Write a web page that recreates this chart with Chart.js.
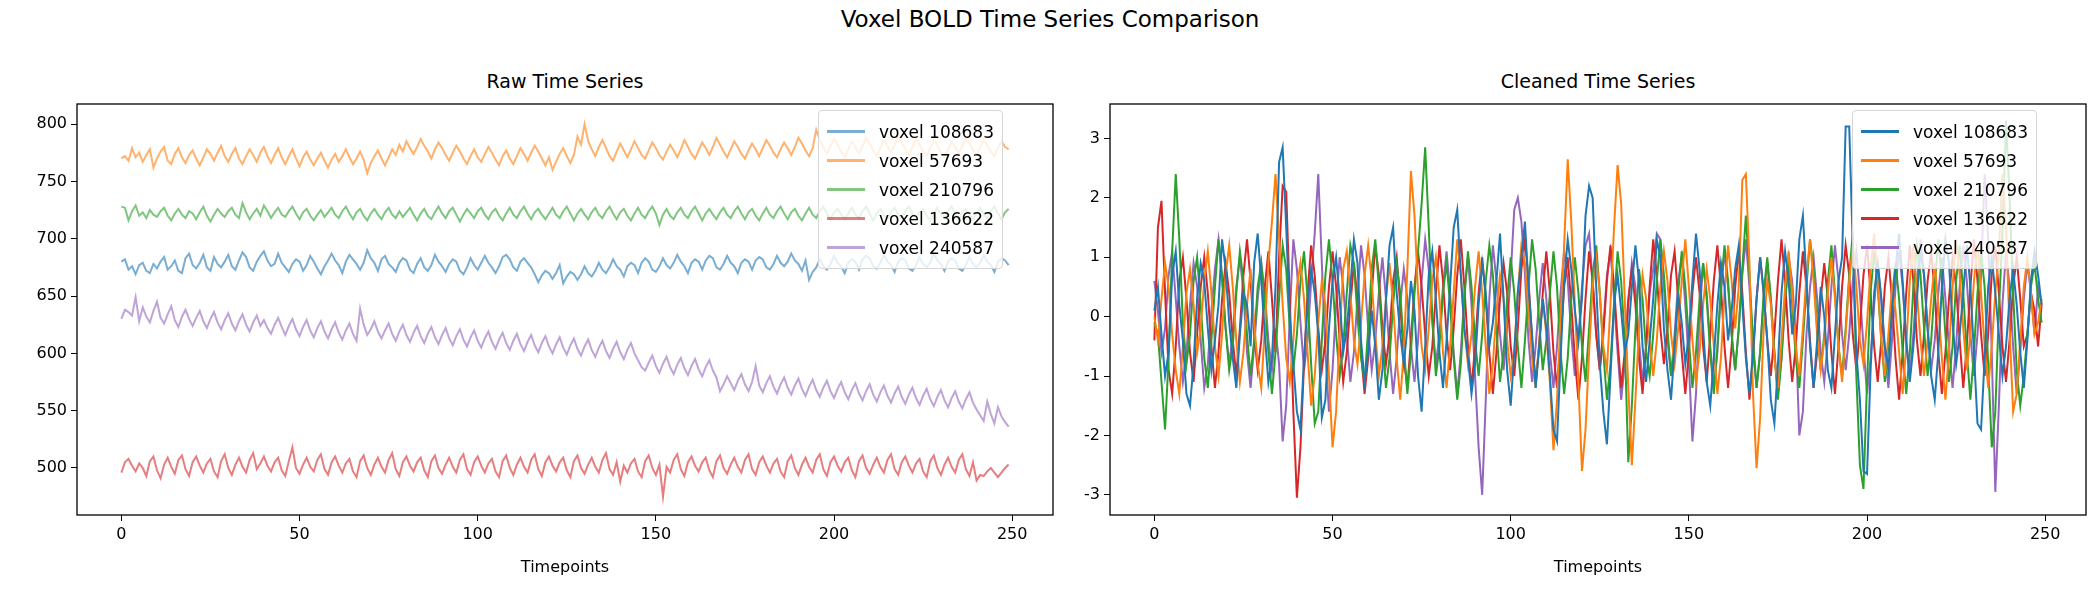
<!DOCTYPE html>
<html>
<head>
<meta charset="utf-8">
<script src="https://cdn.jsdelivr.net/npm/chart.js@4.4.1/dist/chart.umd.min.js"></script>
<style>
  body { margin:0; background:#fff; font-family:"DejaVu Sans", sans-serif; }
  #wrap { position:relative; width:2100px; height:600px; }
  canvas { position:absolute; top:0; }
  .ttl { position:absolute; color:#000; white-space:nowrap; transform:translateX(-50%); }
  .legend { position:absolute; background:rgba(255,255,255,.8); border:1px solid #d6d6d6; border-radius:4px; padding:6px 8px; font-size:17px; }
  .legend div { display:flex; align-items:center; height:29px; }
  .legend span.sw { display:inline-block; width:38px; height:3px; margin-right:14px; }
</style>
</head>
<body>
<div id="wrap">
  <div class="ttl" style="left:1050px;top:6px;font-size:23px">Voxel BOLD Time Series Comparison</div>
  <div class="ttl" style="left:565px;top:70px;font-size:19px">Raw Time Series</div>
  <div class="ttl" style="left:1598px;top:70px;font-size:19px">Cleaned Time Series</div>
  <canvas id="raw"></canvas>
  <canvas id="clean"></canvas>
  <div class="legend" id="legRaw" style="left:818px;top:110px"></div>
  <div class="legend" id="legClean" style="left:1852px;top:110px"></div>
</div>
<script>
// ── DATA ─────────────────────────────────────────────
const LABELS = ['voxel 108683', 'voxel 57693', 'voxel 210796', 'voxel 136622', 'voxel 240587'];
const COLORS = ['#1f77b4', '#ff7f0e', '#2ca02c', '#d62728', '#9467bd'];
const X_TICKS = [0, 50, 100, 150, 200, 250];
const RAW_Y_TICKS = [500, 550, 600, 650, 700, 750, 800];
const CLEAN_Y_TICKS = [-3, -2, -1, 0, 1, 2, 3];

const rawBlue = [680,682,673,676,669,677,679,672,670,678,674,680,684,673,676,681,672,670,683,687,677,674,679,686,675,672,684,678,675,680,686,676,673,681,688,684,675,672,680,685,689,681,676,678,687,679,675,671,678,682,680,672,677,685,680,674,669,676,681,687,681,677,670,680,686,682,678,673,679,690,683,679,672,682,685,678,675,671,679,683,681,673,670,678,683,675,672,677,686,680,676,671,678,682,680,672,669,675,683,677,673,679,685,679,675,670,676,684,686,682,675,672,680,683,679,675,669,662,668,672,670,665,670,677,661,667,671,669,664,669,676,670,667,672,679,673,670,675,682,676,673,667,676,679,677,670,679,683,680,673,671,676,683,677,674,679,686,680,676,670,679,682,680,673,681,685,683,675,673,678,685,679,676,670,679,682,680,673,681,684,682,675,673,678,685,679,676,680,687,681,678,672,681,664,671,675,682,676,673,678,685,679,676,670,679,682,680,673,682,685,683,676,674,679,686,680,677,671,680,683,681,674,672,677,684,678,675,679,687,681,678,672,680,683,681,674,672,677,684,678,675,679,686,680,677,671,680,683,681,677];
const rawOrange = [770,772,768,779,771,775,767,773,778,762,770,776,780,768,765,774,779,771,766,773,777,770,764,771,778,774,768,775,781,772,767,774,779,770,765,772,778,773,767,775,780,772,766,773,779,771,765,772,778,770,763,771,776,769,764,770,775,768,762,769,774,767,772,778,771,765,770,776,769,757,766,772,777,770,764,771,778,773,782,776,785,779,774,780,787,781,776,770,778,784,779,773,768,775,781,776,770,765,772,778,771,767,774,780,775,769,764,772,777,770,765,772,779,774,768,775,781,776,770,764,771,760,767,774,779,772,766,773,789,782,800,785,778,772,780,786,779,772,768,776,783,777,771,778,785,779,773,770,777,784,779,773,769,776,782,777,771,778,786,780,774,770,777,784,779,773,780,788,782,776,771,778,785,780,774,770,777,783,778,772,779,786,781,775,771,778,784,779,773,780,788,783,777,772,779,795,786,780,774,781,787,782,776,771,778,785,780,774,781,788,783,777,772,779,786,781,775,782,790,784,778,773,780,787,782,776,772,779,786,781,775,771,778,785,780,774,781,788,783,777,773,780,786,781,776,772,779,785,780,778];
const rawGreen = [728,727,716,724,729,720,723,718,725,721,719,724,727,720,716,722,726,721,718,724,722,717,723,728,720,715,721,726,722,719,724,727,721,718,731,723,717,722,726,720,729,724,718,723,727,721,719,724,728,722,717,723,726,720,716,721,725,719,723,727,721,718,724,728,722,717,723,726,720,716,722,726,721,717,723,727,721,718,724,719,723,727,721,716,722,726,720,717,723,728,722,718,724,727,721,715,721,726,722,718,724,727,721,717,723,726,720,716,722,727,721,718,724,728,722,717,723,726,721,717,722,727,721,718,724,728,722,716,722,726,721,717,723,727,721,718,724,728,722,717,723,726,720,716,722,727,721,718,724,728,722,712,721,726,720,717,723,727,721,718,724,728,722,716,722,726,721,717,723,727,721,718,724,728,722,717,723,726,720,716,722,727,721,718,724,728,722,717,723,726,720,716,722,727,721,718,724,728,722,717,723,726,721,717,722,727,721,718,724,728,722,716,722,726,720,717,723,727,721,718,724,728,722,717,723,726,720,716,722,727,721,718,724,728,722,717,723,726,721,717,722,727,721,718,724,728,722,717,723,726];
const rawRed = [496,505,508,502,497,504,500,493,506,510,498,491,503,509,501,495,507,511,499,493,505,510,502,496,504,508,497,492,506,512,500,494,503,509,501,496,507,513,499,504,510,502,497,505,509,498,493,506,518,500,495,503,509,501,497,507,512,499,494,505,510,502,496,504,508,497,492,506,511,500,494,503,509,501,496,507,513,499,493,505,510,502,497,505,509,498,492,506,511,500,495,503,509,501,496,507,512,499,494,505,510,502,496,504,508,497,492,506,511,500,494,503,509,501,496,507,512,499,493,505,510,502,497,505,509,498,492,506,511,500,495,503,509,501,496,507,513,499,494,505,488,502,496,504,508,497,492,506,511,500,494,503,475,501,496,507,512,499,493,505,510,502,497,505,509,498,492,506,511,500,495,503,509,501,496,507,512,499,494,505,510,502,496,504,508,497,492,506,511,500,494,503,509,501,496,507,512,499,493,505,510,502,497,505,509,498,492,506,511,500,495,503,509,501,496,507,512,499,494,505,510,502,496,504,508,497,492,506,511,500,494,503,509,501,496,507,512,499,493,505,489,494,493,497,500,496,492,496,500,503];
const rawPurple = [630,638,636,633,649,628,640,632,627,637,645,631,626,634,641,629,623,632,638,630,624,631,637,628,622,630,636,627,621,629,635,626,620,628,634,625,619,627,633,624,629,622,617,625,631,623,616,624,630,621,615,623,629,620,614,622,628,619,613,621,627,618,612,620,626,617,611,639,625,616,621,628,619,613,620,626,617,611,619,625,616,610,618,624,615,609,617,623,614,608,616,622,613,607,615,621,612,606,614,620,611,605,613,619,610,604,612,618,609,603,611,617,608,602,610,616,607,601,609,615,606,600,608,614,605,599,607,613,604,598,606,612,603,597,605,611,602,596,604,610,601,595,603,609,600,594,588,585,592,598,589,583,591,597,588,582,590,596,587,581,589,595,586,580,588,594,585,579,567,573,580,574,568,576,582,573,567,575,589,572,566,574,580,571,565,573,579,570,564,572,578,569,563,571,577,568,562,570,576,567,561,569,575,566,560,568,574,565,559,567,573,564,558,566,572,563,557,565,571,562,556,564,570,561,555,563,569,560,554,562,568,559,553,561,567,558,552,560,566,557,551,546,541,558,547,539,553,545,540,536];

const cleanBlue = [0.1,0.5,-0.3,-1.0,-0.6,0.7,1.1,0.2,-0.4,-1.3,-1.5,-0.8,0.3,0.9,0.6,-0.2,-0.9,-0.4,0.2,1.3,0.8,-0.1,-0.7,-1.2,-0.3,0.4,0.2,-0.5,0.9,1.4,0.6,-0.3,-1.1,-0.7,0.5,2.6,2.85,1.5,0.0,-0.8,-1.6,-1.9,-0.7,0.2,0.8,0.4,-0.3,-1.7,-1.4,-0.2,0.6,1.0,0.3,-0.6,-0.2,0.5,1.3,0.9,-0.4,-1.1,-0.6,0.1,-0.5,-1.4,-0.9,0.3,1.2,1.5,0.4,-0.3,-0.8,-0.2,0.6,0.1,-1.0,-1.6,-0.5,0.7,1.1,0.3,-0.6,-1.2,-0.4,0.5,1.5,1.8,0.7,-0.2,-0.7,-1.3,-0.8,0.2,0.9,0.4,-0.5,-0.1,0.6,1.4,0.3,-0.9,-1.5,-0.6,0.4,1.0,1.6,0.5,-0.3,-1.2,-0.5,0.3,-0.2,-1.0,-1.9,-2.1,-0.7,0.6,1.3,0.8,0.1,-0.4,0.3,1.7,2.2,2.0,0.5,-0.8,-1.6,-2.15,-1.0,0.2,0.7,0.1,-0.6,-0.3,0.5,1.2,0.6,-0.5,-1.1,-0.4,0.3,1.3,1.0,-0.2,-0.9,-1.4,-0.5,0.4,-0.1,-0.8,-0.3,0.6,1.4,0.8,-0.2,-1.1,-1.5,-0.7,0.2,0.9,0.5,-0.4,0.1,0.8,1.2,0.2,-0.7,-1.3,-0.6,0.3,1.0,0.4,-0.4,-1.4,-1.8,-0.8,0.4,1.1,0.6,-0.3,0.2,1.3,1.7,0.6,-0.5,-1.2,-0.4,0.5,0.0,-0.9,-1.2,-0.3,0.6,1.0,3.2,3.2,1.2,-0.6,-1.4,-2.6,-2.65,-0.9,0.4,0.9,0.3,-0.5,-0.9,0.1,0.8,1.4,0.6,-0.4,-1.1,-0.5,0.3,1.1,0.7,-0.2,-1.0,-1.4,-0.6,0.5,1.3,0.9,-0.1,-0.8,-0.3,0.4,1.2,0.5,-0.6,-1.8,-1.9,-0.7,0.5,1.0,0.4,-0.3,-1.0,-0.5,0.3,0.8,0.2,-0.6,-1.2,-0.4,0.6,1.1,0.7,0.2];
const cleanOrange = [0.0,-0.4,0.3,0.9,0.5,-0.3,-0.9,-1.3,-0.5,0.4,0.8,0.2,-0.6,-0.2,0.6,1.1,0.4,-0.5,-1.0,-0.3,0.7,1.2,0.5,-0.4,-1.1,-0.6,0.2,0.8,-0.1,-0.8,-1.2,-0.2,0.9,1.6,2.4,1.3,0.2,-0.7,-1.1,-0.4,0.5,0.9,0.3,-0.6,-1.5,-1.0,-0.1,0.6,0.2,-1.0,-2.2,-1.6,-0.3,0.8,1.1,0.4,-0.4,-0.8,-0.1,0.7,1.2,0.6,-0.3,-1.0,-0.5,0.3,0.9,0.2,-0.7,-1.4,-0.6,0.8,2.45,1.7,0.4,-0.5,-0.9,-0.2,0.6,1.0,0.3,-0.6,-1.2,-0.5,0.4,1.3,0.7,-0.2,-0.8,-0.3,0.5,1.1,0.4,-0.5,-1.3,-0.8,0.1,0.7,0.3,-0.4,-1.0,-0.6,0.4,1.2,0.9,0.1,-0.7,-1.2,-0.4,0.3,-0.3,-1.1,-2.25,-1.4,0.0,1.2,2.65,1.6,0.2,-1.1,-2.6,-1.9,-0.6,0.5,1.0,0.4,-0.5,-0.9,0.2,1.5,2.55,1.9,0.3,-1.2,-2.5,-1.4,-0.2,0.7,0.3,-0.4,-1.0,-0.4,0.5,1.1,0.6,-0.3,-0.8,-0.2,0.6,1.3,0.5,-0.4,-1.1,-0.6,0.2,0.8,0.3,-0.5,-1.3,-0.7,0.4,1.2,0.6,-0.2,0.5,2.3,2.4,0.9,-1.3,-2.55,-1.7,-0.2,0.6,0.2,-0.7,-1.2,-0.4,0.5,1.1,0.4,-0.5,-1.0,-0.2,0.7,1.3,0.6,-0.3,-0.9,-0.4,0.4,1.0,0.3,-0.5,-1.1,-0.3,0.6,1.2,0.5,-0.4,-0.8,-0.1,0.8,1.4,0.6,-0.4,-1.0,-0.3,0.5,0.1,-0.6,-1.3,-0.5,0.6,1.2,0.4,-0.4,-1.0,-0.4,0.3,0.9,0.2,-0.7,-1.4,-0.6,0.5,1.3,0.7,-0.2,-0.9,-0.3,0.6,1.2,0.4,-0.5,-1.2,-0.5,0.4,1.1,2.4,1.5,-0.2,-1.6,-1.3,-0.4,0.5,1.0,0.4,-0.3,-0.1,0.3];
const cleanGreen = [-0.1,-0.3,-1.1,-1.9,-0.7,1.1,2.4,1.3,-0.1,-0.8,-0.3,0.6,1.0,0.2,-0.7,-1.2,-0.4,0.5,1.3,0.7,-0.2,-0.9,-0.5,0.4,1.1,0.6,-0.3,-1.0,-0.4,0.5,0.9,0.2,-0.6,-1.3,-0.6,0.3,1.2,0.8,-0.2,-0.9,-0.3,0.6,1.1,0.3,-0.8,-1.8,-1.6,-0.4,0.7,1.3,0.6,-0.3,-1.0,-0.5,0.4,1.2,0.9,0.0,-0.7,-1.1,-0.2,0.8,1.3,0.5,-0.4,-1.2,-0.7,0.2,0.9,0.4,-0.5,-1.3,-0.6,0.4,1.1,1.9,2.85,1.5,0.0,-1.0,-0.5,0.4,0.9,0.2,-0.7,-1.4,-0.8,0.3,1.1,0.5,-0.4,-1.0,-0.3,0.6,1.2,0.7,-0.2,-1.1,-0.6,0.3,1.0,0.4,-0.5,-1.2,-0.4,0.5,1.3,0.8,-0.1,-0.9,-0.4,0.4,1.1,0.5,-0.6,-1.3,-0.7,0.3,1.0,0.4,-0.5,-1.1,-0.2,0.7,1.2,0.4,-0.6,-1.4,-0.8,0.2,1.1,0.6,-0.4,-2.45,-1.5,-0.2,0.8,0.3,-0.6,-1.0,-0.3,0.6,1.3,0.7,-0.2,-1.0,-0.5,0.4,1.1,0.5,-0.4,-1.2,-0.6,0.3,0.9,0.3,-0.6,-1.3,-0.5,0.5,1.2,0.6,-0.3,-0.9,-0.2,0.8,1.7,0.7,-0.4,-1.2,-0.6,0.4,1.0,0.3,-0.6,-1.4,-0.7,0.3,0.9,0.2,-0.7,-1.2,-0.4,0.5,1.3,0.8,-0.2,-0.9,-0.3,0.6,1.2,0.4,-0.5,-1.0,-0.2,0.7,1.4,-1.0,-2.5,-2.9,-1.1,0.4,1.1,0.5,-0.4,-1.1,-0.5,0.3,0.9,0.3,-0.6,-1.3,-0.6,0.5,1.2,0.7,-0.2,-1.0,-0.4,0.5,1.3,0.6,-0.3,-1.1,-0.5,0.6,1.2,0.4,-0.6,-1.4,-0.6,0.4,1.1,0.5,-0.8,-2.2,-1.6,0.1,1.4,3.3,2.0,0.4,-0.9,-1.5,-1.0,-0.3,0.5,0.9,0.3,-0.1];
const cleanRed = [-0.4,1.5,1.95,0.4,-0.9,-1.3,-0.5,0.6,1.0,0.3,-0.6,-1.1,-0.3,0.5,1.0,0.4,-0.5,-1.2,-0.6,0.3,0.9,0.4,-0.4,-1.0,-0.2,0.7,1.3,0.6,-0.3,-0.9,-0.4,0.5,1.1,0.3,-0.6,1.0,2.2,2.1,0.3,-1.6,-3.05,-2.2,-0.8,0.4,1.2,0.7,-0.2,-0.9,-0.4,0.5,1.1,0.5,-0.4,-1.1,-0.6,0.2,0.9,0.3,-0.6,-1.3,-0.7,0.4,1.2,0.7,-0.2,-0.8,-0.3,0.6,1.0,0.2,-0.7,-1.2,-0.4,0.5,1.1,0.5,-0.3,-1.0,-0.5,0.4,1.2,0.6,-0.3,-0.9,-0.2,0.7,1.3,0.5,-0.5,-1.2,-0.5,0.4,1.0,0.3,-0.6,-1.3,-0.6,0.3,0.9,0.4,-0.5,-1.0,-0.2,0.8,1.3,0.6,-0.4,-1.1,-0.5,0.4,1.1,0.4,-0.6,-1.2,-0.4,0.5,1.0,0.2,-0.7,-1.4,-0.7,0.3,1.1,0.6,-0.3,-0.9,-0.3,0.6,1.2,0.5,-0.4,-1.2,-0.6,0.3,0.8,0.2,-0.7,-1.3,-0.5,0.5,1.3,0.7,-0.2,-0.8,-0.2,0.7,1.1,0.3,-0.6,-1.3,-0.6,0.4,1.0,0.4,-0.5,-1.1,-0.3,0.6,1.2,0.5,-0.5,-1.2,-0.5,0.5,1.1,0.4,-0.6,-1.4,-0.7,0.3,1.0,0.4,-0.4,-1.0,-0.3,0.6,1.3,0.6,-0.4,-1.1,-0.5,0.4,1.1,0.5,-0.4,-1.2,-0.6,0.3,0.9,0.3,-0.6,-1.3,-0.5,0.5,1.2,0.7,-0.3,-0.9,-0.2,0.7,1.2,0.4,-0.5,-1.1,-0.4,0.5,1.0,0.3,-0.7,-1.4,-0.6,0.4,1.2,0.6,-0.4,-1.0,-0.3,0.6,1.1,0.4,-0.6,-1.3,-0.6,0.3,1.0,0.5,-0.4,-1.2,-0.5,0.5,1.3,0.6,-0.3,-1.0,-0.3,0.7,1.2,0.4,-0.5,-1.1,-0.4,0.5,1.0,0.3,-0.5,-0.3,0.4,0.1,-0.5,0.2];
const cleanPurple = [0.6,0.1,-0.6,-0.2,0.7,1.1,0.3,-0.5,-1.1,-0.6,0.2,0.9,0.5,-0.4,-1.2,-0.8,0.1,0.8,1.3,0.6,-0.2,-0.8,-0.3,0.5,1.0,0.4,-0.6,-1.2,-0.5,0.3,0.9,0.4,-0.4,-0.9,-0.2,-0.8,-2.1,-1.5,0.0,1.3,0.8,-0.1,-0.9,-0.4,0.6,1.4,2.4,0.9,-0.6,-1.6,-0.9,0.2,1.0,0.5,-0.3,-1.1,-0.6,0.3,1.2,0.7,-0.2,-0.9,-0.4,0.4,1.0,0.3,-0.6,-1.3,-0.7,0.2,0.8,0.3,-0.5,-1.1,-0.4,0.6,1.3,0.8,-0.1,-0.8,-0.3,0.5,1.1,0.4,-0.6,-1.3,-0.6,0.4,1.0,0.2,-1.0,-2.2,-3.0,-1.4,0.3,1.2,0.6,-0.3,-0.9,-0.2,0.7,1.8,2.0,1.6,0.7,-0.4,-1.1,-0.5,0.3,0.9,0.3,-0.6,-1.2,-0.5,0.4,1.1,0.6,-0.3,-1.0,-0.4,0.5,1.2,1.4,0.6,-0.3,-0.9,-0.2,0.7,1.1,0.3,-0.6,-1.4,-0.8,0.2,0.9,0.5,-0.4,-1.1,-0.5,0.4,0.8,1.4,1.3,0.5,-0.4,-1.0,-0.3,0.6,1.0,0.2,-0.8,-2.1,-1.3,0.0,0.9,0.4,-0.5,-1.2,-0.6,0.4,1.1,0.5,-0.3,-0.9,-0.2,0.7,1.3,0.5,-0.5,-1.2,-0.6,0.3,0.9,0.3,-0.6,-1.3,-0.7,0.2,1.0,0.6,-0.3,-2.0,-1.6,-0.3,0.5,1.0,0.3,-0.6,-1.1,-0.4,0.5,1.2,0.6,-0.3,-0.9,-0.3,0.6,1.1,0.4,-0.5,-1.3,-0.7,0.2,0.9,0.3,-0.6,-1.2,-0.4,0.5,1.1,0.5,-0.4,-1.0,-0.3,0.6,1.3,0.7,-0.2,-0.9,-0.4,0.4,1.0,0.3,-0.5,-1.2,-0.5,0.5,1.2,0.6,-0.3,-1.0,-0.3,0.7,2.4,1.3,-0.6,-2.95,-1.5,0.2,1.1,0.5,-0.5,-1.3,-0.6,0.3,0.9,0.4,-0.3,0.5,0.2];

const RAW = [rawBlue, rawOrange, rawGreen, rawRed, rawPurple];
const CLEAN = [cleanBlue, cleanOrange, cleanGreen, cleanRed, cleanPurple];

// ── HELPERS ──────────────────────────────────────────
Chart.defaults.font.family = '"DejaVu Sans", sans-serif';
Chart.defaults.color = '#000';

const frame = {
  id: 'frame',
  afterDraw(c) {
    const a = c.chartArea, ctx = c.ctx;
    ctx.save(); ctx.strokeStyle = '#000'; ctx.lineWidth = 1.3;
    ctx.strokeRect(a.left, a.top, a.right - a.left, a.bottom - a.top);
    ctx.restore();
  }
};

function toXY(arr) { return arr.map((v, i) => ({ x: i, y: v })); }

function axis(ticks, min, max, fit) {
  return {
    type: 'linear', min, max,
    afterBuildTicks: s => { s.ticks = ticks.map(v => ({ value: v })); },
    afterFit: fit,
    grid: { drawOnChartArea: false, drawTicks: true, tickLength: 6, color: '#000' },
    border: { display: false },
    ticks: { font: { size: 16 }, padding: 4, color: '#000' },
  };
}

function buildChart(id, left, width, series, alpha, yTicks, yMin, yMax, yWidth, padRight) {
  const cv = document.getElementById(id);
  cv.style.left = left + 'px';
  cv.style.width = width + 'px'; cv.style.height = '600px';
  const x = axis(X_TICKS, -12.45, 261.45, s => { s.height = 62; });
  x.title = { display: true, text: 'Timepoints', font: { size: 16 }, padding: { top: 2, bottom: 0 } };
  return new Chart(cv, {
    type: 'line',
    data: {
      datasets: series.map((d, i) => ({
        label: LABELS[i], data: toXY(d),
        borderColor: COLORS[i] + alpha, borderWidth: 2,
        pointRadius: 0, tension: 0, fill: false,
      })),
    },
    options: {
      responsive: false, animation: false, devicePixelRatio: 1,
      layout: { padding: { top: 104, right: padRight, bottom: 600 - 515 - 62, left: 0 } },
      plugins: { legend: { display: false }, tooltip: { enabled: false } },
      scales: { x, y: axis(yTicks, yMin, yMax, s => { s.width = yWidth; }) },
    },
    plugins: [frame],
  });
}

function buildLegend(id, alpha) {
  document.getElementById(id).innerHTML = LABELS.map((l, i) =>
    `<div><span class="sw" style="background:${COLORS[i] + alpha}"></span>${l}</div>`).join('');
}

document.getElementById('raw').width = 1070; document.getElementById('raw').height = 600;
document.getElementById('clean').width = 1030; document.getElementById('clean').height = 600;

buildChart('raw', 0, 1070, RAW, '99', RAW_Y_TICKS, 459, 817.5, 77, 17);
buildChart('clean', 1070, 1030, CLEAN, '', CLEAN_Y_TICKS, -3.34, 3.58, 40, 14);
buildLegend('legRaw', '99');
buildLegend('legClean', '');
</script>
</body>
</html>
